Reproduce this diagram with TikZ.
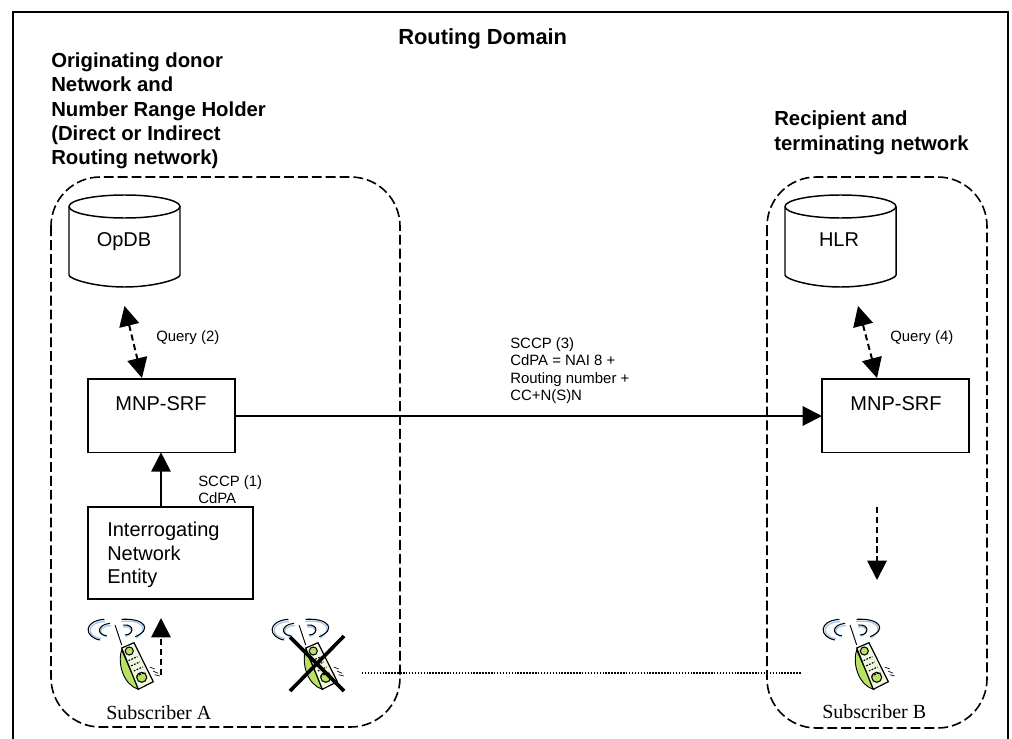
\documentclass[tikz,border=0pt]{standalone}
\usepackage{fontspec}
\setmainfont{Liberation Sans}
\newfontfamily\timesfont{Liberation Serif}
\usetikzlibrary{arrows.meta}
\definecolor{phgreen}{HTML}{B9E264}
\definecolor{phblue}{HTML}{A4C8F0}
\definecolor{phface}{HTML}{F2F8E0}
\tikzset{
  frameline/.style={line width=2.1pt,line cap=rect},
  netbox/.style={draw,line width=1.2pt,dash pattern=on 7.4pt off 3pt,rounded corners=37pt},
  unitbox/.style={draw,line width=1.25pt,rectangle,inner sep=0pt,outer sep=0pt},
  dbline/.style={line width=1.1pt},
  head/.style={font=\fontsize{15.25}{18.25}\selectfont\bfseries,align=left,inner sep=0pt},
  big/.style={font=\fontsize{15}{17.6}\selectfont,align=left,inner sep=0pt},
  small/.style={font=\fontsize{11.2}{13.2}\selectfont,align=left,inner sep=0pt},
  subscr/.style={font=\fontsize{15}{18}\timesfont,inner sep=0pt},
  solidflow/.style={line width=1.5pt,-{Triangle[length=14.5pt,width=14.5pt]}},
  dashflow/.style={line width=1.5pt,dash pattern=on 4.6pt off 2.8pt,-{Triangle[length=14.5pt,width=14.5pt]}},
  biflow/.style={line width=1.5pt,dash pattern=on 4.6pt off 2.8pt,{Triangle[length=15pt,width=15pt]}-{Triangle[length=15pt,width=15pt]}},
  dotflow/.style={line width=0.8pt,dash pattern=on 1.1pt off 1.1pt},
  crossline/.style={line width=2.7pt},
  dbshape/.pic={
    \draw[dbline] (-55.5,-34.5) arc[start angle=180,end angle=540,x radius=55.5,y radius=11.5];
    \draw[dbline] (-55.5,-34.5) -- (-55.5,34) .. controls (-55.5,38) and (-30,46) .. (0,46) .. controls (30,46) and (55.5,38) .. (55.5,34) -- (55.5,-34.5);
  },
  phone/.pic={
    \draw[phblue,line width=1pt] (17,3.5) .. controls (-2,4) and (-2,19) .. (13,20.5);
    \draw[phblue,line width=1pt] (23,7.5) .. controls (9,8) and (11,17) .. (19,19);
    \draw[phblue,line width=1pt] (33,3.5) .. controls (56,1) and (61,12) .. (48,20);
    \draw[phblue,line width=1pt] (35,9) .. controls (45,7) and (46,15) .. (38,18.5);
    \draw[line width=.8pt] (16.3,1.3) .. controls (-5,3) and (-4,19) .. (12,22);
    \draw[line width=.8pt] (22,5.3) .. controls (8,7) and (9,17) .. (18.7,17.7);
    \draw[line width=.8pt] (33.7,1.3) .. controls (58,0) and (64,12) .. (47,18.7);
    \draw[line width=.8pt] (35.3,7) .. controls (47,6) and (46,17) .. (37,17);
    \draw[line width=.7pt] (27,7) -- (33.7,27);
    \fill[phgreen,draw=black,line width=.7pt] (33.7,32) .. controls (29,46) and (36,67) .. (50.3,71.3) -- (46,60) -- cycle;
    \filldraw[fill=phface,draw=black,line width=.9pt] (33.7,30) -- (46,24.7) -- (65.3,63.7) -- (50.3,71.3) -- cycle;
    \filldraw[fill=phgreen,draw=black,line width=.8pt] (41.3,33) circle (4);
    \filldraw[fill=phgreen,draw=black,line width=.8pt] (53.7,59.3) circle (5);
    \foreach \r in {0,1,2,3}{
      \draw[line width=.9pt,dash pattern=on 1.3pt off 1pt] ({40.6+2.6*\r},{42.6+5.2*\r}) -- ({49.4+2.6*\r},{38.6+5.2*\r});
    }
    \draw[line width=.5pt] (61.7,49) -- (66.7,51) (65,53) -- (70,55.3) (66.7,56.7) -- (71.7,58);
  }
}
\begin{document}
\begin{tikzpicture}[x=0.75pt,y=-0.75pt]
\useasboundingbox (0,0) rectangle (1012,738);
\fill[white] (0,0) rectangle (1012,738);
\draw[frameline] (13,745) -- (13,12) -- (1008,12) -- (1008,745);

\node[font=\fontsize{16.4}{20}\selectfont\bfseries,inner sep=0pt,anchor=base west] (title) at (398,45) {Routing Domain};
\node[head,anchor=north west] (orig) at (51,52.5) {Originating donor\\Network and\\Number Range Holder\\(Direct or Indirect\\Routing network)};
\node[head,anchor=north west] (recip) at (774,111) {Recipient and\\terminating network};

\draw[netbox] (51,177) rectangle (400,727);
\draw[netbox] (767,177) rectangle (987,728);

\pic at (124.5,241) {dbshape};
\pic at (840.5,241) {dbshape};
\node[big,anchor=base] (opdbt) at (124,246) {OpDB};
\node[big,anchor=base] (hlrt) at (839,246) {HLR};

\node[unitbox,anchor=north west,minimum width=110.25pt,minimum height=55pt] (srfa) at (88,379) {};
\node[unitbox,anchor=north west,minimum width=110.25pt,minimum height=55pt] (srfb) at (822,379) {};
\node[big,anchor=base] (srfat) at (161,410) {MNP-SRF};
\node[big,anchor=base] (srfbt) at (896,410) {MNP-SRF};

\node[unitbox,anchor=north west,minimum width=123.75pt,minimum height=69pt] (ine) at (88,507) {};
\node[big,anchor=north west] (inet) at (107,522) {Interrogating\\Network\\Entity};

\draw[solidflow] (ine.north -| 161,0) -- (srfa.south -| 161,0);
\draw[solidflow] (srfa.east |- 0,416) -- (srfb.west |- 0,416);

\coordinate (q2top) at (124.5,306);
\coordinate (q2bot) at (142,378);
\coordinate (q4top) at (858,306);
\coordinate (q4bot) at (877,378);
\draw[biflow] (q2top) -- (q2bot);
\draw[biflow] (q4top) -- (q4bot);

\node[small,anchor=base west] (q2) at (156,341.5) {Query (2)};
\node[small,anchor=base west] (q4) at (890,341.5) {Query (4)};
\node[small,anchor=north west] (sc1) at (198,475) {SCCP (1)\\CdPA};
\node[small,anchor=north west] (sc3) at (510,337) {SCCP (3)\\CdPA = NAI 8 +\\Routing number +\\CC+N(S)N};

\pic at (88,618) {phone};
\pic at (272,618) {phone};
\pic at (823,618) {phone};

\coordinate (upfrom) at (161,675);
\coordinate (upto) at (161,618);
\draw[dashflow] (upfrom) -- (upto);
\coordinate (downfrom) at (877,507);
\coordinate (downto) at (877,580);
\draw[dashflow] (downfrom) -- (downto);

\coordinate (xa) at (290,637);
\coordinate (xb) at (344,691);
\coordinate (xc) at (344,636);
\coordinate (xd) at (290,691);
\draw[crossline] (xa) -- (xb);
\draw[crossline] (xc) -- (xd);

\coordinate (dota) at (362,673);
\coordinate (dotb) at (801,673);
\draw[dotflow] (dota) -- (dotb);

\node[subscr,anchor=base west] (suba) at (106,719) {Subscriber A};
\node[subscr,anchor=base west] (subb) at (822,718) {Subscriber B};
\end{tikzpicture}
\end{document}
